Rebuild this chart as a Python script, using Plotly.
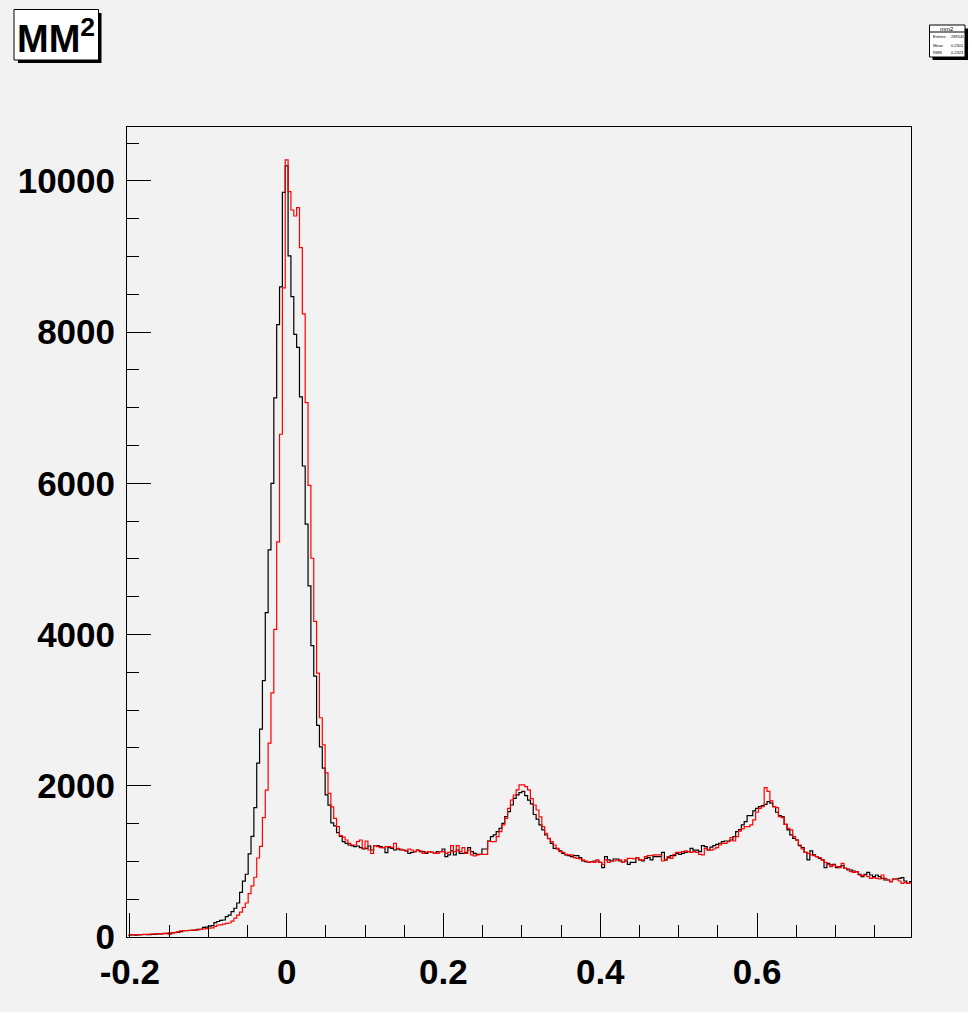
import plotly.graph_objects as go

# ---------------- data ----------------
N_BINS = 275
BIN_LOW = -55.5 / 275      # first bin edge
BIN_HIGH = 219.5 / 275     # last bin edge
X_RANGE = [-0.20364, 0.79636]
Y_RANGE = [0, 10714]

X_TICKS = [-0.2, 0.0, 0.2, 0.4, 0.6]
X_TICK_LABELS = ["-0.2", "0", "0.2", "0.4", "0.6"]
Y_TICKS = [0, 2000, 4000, 6000, 8000, 10000]
Y_TICK_LABELS = ["0", "2000", "4000", "6000", "8000", "10000"]

black_counts = [
    25, 30, 25, 28, 30, 33, 30, 32, 35, 38,
    42, 40, 45, 44, 50, 55, 57, 60, 70, 85,
    84, 86, 88, 90, 100, 101, 128, 130, 145, 150,
    190, 205, 220, 225, 270, 290, 335, 380, 450, 589,
    740, 830, 1100, 1330, 1710, 2300, 2750, 3390, 4290, 5120,
    6000, 7130, 8100, 8600, 9850, 10200, 9010, 8470, 7970, 7800,
    7145, 6230, 5460, 4645, 3855, 3450, 2800, 2515, 2235, 1880,
    1745, 1510, 1470, 1380, 1330, 1261, 1239, 1217, 1208, 1195,
    1204, 1182, 1164, 1173, 1204, 1151, 1208, 1208, 1195, 1182,
    1116, 1182, 1173, 1151, 1164, 1151, 1151, 1138, 1107, 1120,
    1129, 1151, 1129, 1129, 1107, 1129, 1120, 1107, 1129, 1129,
    1164, 1063, 1085, 1138, 1085, 1151, 1107, 1107, 1120, 1182,
    1129, 1107, 1094, 1094, 1164, 1164, 1270, 1327, 1350, 1393,
    1437, 1503, 1591, 1658, 1746, 1834, 1880, 1910, 1925, 1870,
    1810, 1760, 1620, 1560, 1482, 1416, 1349, 1300, 1239, 1173,
    1164, 1138, 1107, 1085, 1076, 1063, 1076, 1076, 1050, 1005,
    996, 988, 996, 1005, 1005, 988, 917, 1063, 1019, 1005,
    1032, 1032, 1005, 988, 1005, 961, 988, 988, 1050, 1019,
    1005, 1041, 1050, 1019, 1063, 1063, 1063, 1120, 1019, 1050,
    1076, 1076, 1107, 1094, 1107, 1120, 1129, 1173, 1150, 1150,
    1129, 1208, 1195, 1151, 1190, 1208, 1226, 1240, 1261, 1270,
    1270, 1283, 1327, 1393, 1420, 1482, 1525, 1605, 1605, 1667,
    1702, 1724, 1737, 1755, 1790, 1770, 1724, 1650, 1605, 1592,
    1490, 1416, 1350, 1305, 1283, 1208, 1182, 1120, 1019, 1138,
    1085, 1063, 1041, 1019, 917, 975, 953, 961, 917, 930,
    943, 908, 886, 886, 873, 864, 829, 798, 829, 856,
    820, 798, 820, 798, 776, 754, 754, 732, 767, 767,
    776, 785, 741, 710, 732,
]

red_counts = [
    25, 28, 30, 30, 32, 35, 35, 38, 40, 40,
    45, 42, 48, 50, 35, 55, 60, 70, 80, 84,
    86, 88, 90, 92, 95, 100, 106, 110, 118, 120,
    140, 159, 160, 170, 180, 185, 210, 250, 290, 330,
    390, 450, 575, 675, 790, 1045, 1200, 1580, 1944, 2565,
    3230, 4070, 5227, 6650, 8585, 10280, 9858, 9616, 9537, 9647,
    9118, 8241, 7068, 5975, 5010, 4175, 3490, 2900, 2540, 2170,
    1900, 1720, 1570, 1460, 1340, 1320, 1283, 1239, 1217, 1217,
    1261, 1283, 1173, 1270, 1151, 1107, 1208, 1195, 1182, 1182,
    1195, 1195, 1182, 1239, 1173, 1164, 1151, 1138, 1164, 1151,
    1129, 1151, 1138, 1107, 1120, 1129, 1120, 1107, 1107, 1129,
    1129, 1107, 1120, 1208, 1129, 1208, 1129, 1182, 1107, 1151,
    1085, 1072, 1085, 1094, 1094, 1094, 1270, 1261, 1261, 1327,
    1393, 1482, 1570, 1702, 1812, 1878, 1945, 2011, 2011, 1990,
    1945, 1830, 1746, 1680, 1590, 1460, 1372, 1305, 1261, 1217,
    1173, 1129, 1120, 1094, 1085, 1085, 1050, 1041, 1032, 1019,
    1005, 988, 996, 988, 1019, 988, 961, 1019, 988, 1005,
    1005, 1019, 1019, 988, 1019, 1041, 1041, 1032, 1050, 1019,
    1019, 1063, 1076, 1076, 1085, 1085, 1085, 1005, 1019, 1063,
    1041, 1094, 1120, 1120, 1129, 1138, 1129, 1120, 1129, 1120,
    1094, 1085, 1173, 1151, 1150, 1164, 1182, 1217, 1239, 1239,
    1261, 1314, 1270, 1327, 1400, 1429, 1460, 1460, 1482, 1548,
    1650, 1702, 1724, 1976, 1925, 1800, 1724, 1711, 1592, 1580,
    1490, 1437, 1416, 1327, 1283, 1217, 1164, 1120, 1107, 1085,
    1076, 1063, 1050, 1019, 988, 961, 930, 953, 930, 917,
    975, 908, 900, 864, 856, 864, 820, 811, 820, 798,
    776, 785, 776, 767, 820, 776, 754, 732, 767, 767,
    741, 710, 723, 710, 720,
]

STATS_TITLE = "mm2"
STATS_ROWS = [("Entries", "289541"), ("Mean", "0.2301"), ("RMS", "0.2323")]

# ---------------- figure ----------------
W, H = 972, 1015
ML, MR, MT, MB = 127, 61, 127, 78
PW, PH = W - ML - MR, H - MT - MB
BG = "#f2f2f2"
FONT = "Liberation Sans, Arial, Helvetica, sans-serif"

bin_w = (BIN_HIGH - BIN_LOW) / N_BINS
edges = [BIN_LOW + i * bin_w for i in range(N_BINS + 1)]


def step(counts):
    return edges, list(counts) + [counts[-1]]


def px(x):
    return (x - ML) / PW


def py(y):
    return (H - MB - y) / PH


fig = go.Figure()
for counts, color in ((black_counts, "black"), (red_counts, "#ff0000")):
    xs, ys = step(counts)
    fig.add_trace(go.Scatter(x=xs, y=ys, mode="lines", line=dict(color=color, width=1.2, shape="hv"),
                             hoverinfo="skip", showlegend=False))

tickfont = dict(family=FONT, size=35, color="black", weight="bold")
fig.update_xaxes(range=X_RANGE, showline=True, mirror=True, linecolor="black", linewidth=1,
                 showgrid=False, zeroline=False, ticks="inside", ticklen=24, tickwidth=1, tickcolor="black",
                 tickvals=X_TICKS, ticktext=X_TICK_LABELS, tickfont=tickfont, ticklabelstandoff=4,
                 minor=dict(dtick=0.05, tick0=0, ticks="inside", ticklen=12, tickwidth=1, tickcolor="black"))
fig.update_yaxes(range=Y_RANGE, showline=True, mirror=True, linecolor="black", linewidth=1,
                 showgrid=False, zeroline=False, ticks="inside", ticklen=24, tickwidth=1, tickcolor="black",
                 tickvals=Y_TICKS, ticktext=Y_TICK_LABELS, tickfont=tickfont, ticklabelstandoff=4,
                 minor=dict(dtick=500, tick0=0, ticks="inside", ticklen=12, tickwidth=1, tickcolor="black"))

shapes = []
# white strips at right / bottom edge of the page
shapes.append(dict(type="rect", xref="paper", yref="paper", x0=px(968), x1=px(973), y0=py(-1), y1=py(1016),
                   fillcolor="white", line=dict(width=0), layer="below"))
shapes.append(dict(type="rect", xref="paper", yref="paper", x0=px(-1), x1=px(973), y0=py(1012), y1=py(1016),
                   fillcolor="white", line=dict(width=0), layer="below"))

# title box with shadow
shapes.append(dict(type="rect", xref="paper", yref="paper", x0=px(18), x1=px(101.5), y0=py(13), y1=py(63),
                   fillcolor="black", line=dict(width=0)))
shapes.append(dict(type="rect", xref="paper", yref="paper", x0=px(14), x1=px(98.5), y0=py(9.5), y1=py(60),
                   fillcolor="white", line=dict(color="black", width=1)))
# stats box with shadow
shapes.append(dict(type="rect", xref="paper", yref="paper", x0=px(932.5), x1=px(968), y0=py(28.5), y1=py(60),
                   fillcolor="black", line=dict(width=0)))
shapes.append(dict(type="rect", xref="paper", yref="paper", x0=px(929.5), x1=px(965), y0=py(25), y1=py(57),
                   fillcolor="white", line=dict(color="black", width=1)))
shapes.append(dict(type="line", xref="paper", yref="paper", x0=px(929.5), x1=px(965), y0=py(32), y1=py(32),
                   line=dict(color="black", width=1)))

annotations = [
    dict(text="MM<sup>2</sup>", xref="paper", yref="paper", x=px(56), y=py(36), xanchor="center",
         yanchor="middle", showarrow=False, font=dict(family=FONT, size=38, color="black", weight="bold")),
    dict(text=STATS_TITLE, xref="paper", yref="paper", x=px(947), y=py(28.5), xanchor="center",
         yanchor="middle", showarrow=False, font=dict(family=FONT, size=6, color="black")),
]
for i, (lab, val) in enumerate(STATS_ROWS):
    yy = 37 + i * 8
    annotations.append(dict(text=lab, xref="paper", yref="paper", x=px(931), y=py(yy), xanchor="left",
                            yanchor="middle", showarrow=False, font=dict(family=FONT, size=4, color="black")))
    annotations.append(dict(text=val, xref="paper", yref="paper", x=px(949), y=py(yy), xanchor="left",
                            yanchor="middle", showarrow=False, font=dict(family=FONT, size=4, color="black")))

fig.update_layout(width=W, height=H, margin=dict(l=ML, r=MR, t=MT, b=MB, autoexpand=False),
                  paper_bgcolor=BG, plot_bgcolor=BG, shapes=shapes, annotations=annotations,
                  showlegend=False)

fig.write_html("out.html")
